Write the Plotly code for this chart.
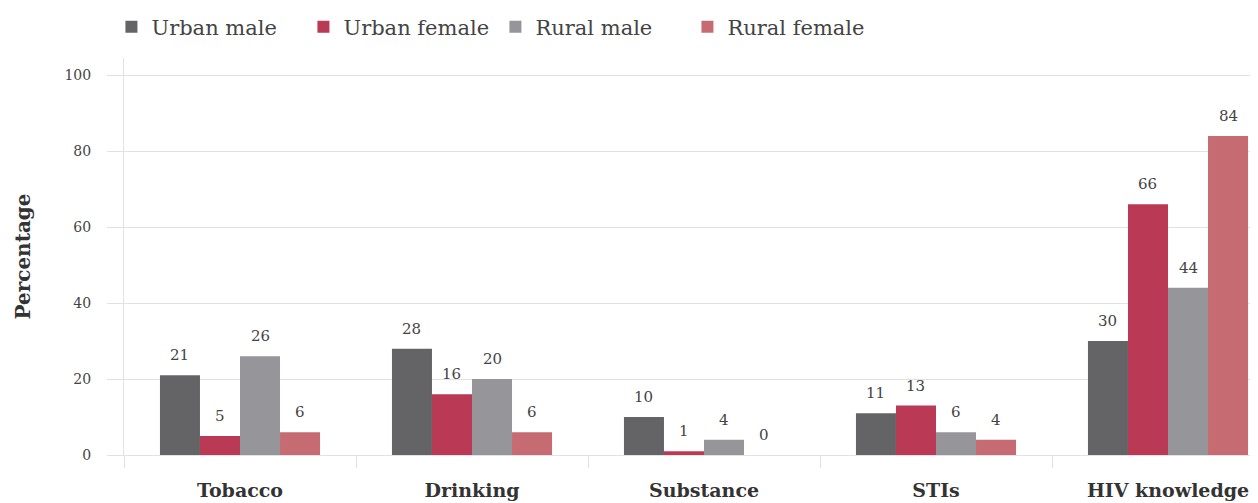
import plotly.graph_objects as go

categories = ["Tobacco", "Drinking", "Substance", "STIs", "HIV knowledge"]
urban_male = [21, 28, 10, 11, 30]
urban_female = [5, 16, 1, 13, 66]
rural_male = [26, 20, 4, 6, 44]
rural_female = [6, 6, 0, 4, 84]

series = [
    ("Urban male", urban_male, "#646466"),
    ("Urban female", urban_female, "#ba3955"),
    ("Rural male", rural_male, "#96969a"),
    ("Rural female", rural_female, "#c76b72"),
]

FONT = "DejaVu Serif"
TXT = "#444444"
GRID = "#e2e2e4"

W, H = 1258, 503
ml, mr, mt, mb = 116, 0, 50, 56
px_per_cat = 232
x_range = [-0.5, -0.5 + (W - ml - mr) / px_per_cat]
bargap = 0.31

fig = go.Figure()
for name, vals, col in series:
    fig.add_trace(go.Bar(x=categories, y=vals, name=name, marker_color=col,
                         marker_line_width=0))

# value labels placed above each bar
bar_px = (1 - bargap) / len(series) * px_per_cat
annotations = []
for j, (name, vals, col) in enumerate(series):
    for cat, v in zip(categories, vals):
        annotations.append(dict(x=cat, y=v, text=str(v), showarrow=False,
                                xshift=(j - 1.5) * bar_px, yshift=9, yanchor="bottom",
                                font=dict(family=FONT, size=15, color=TXT)))

fig.update_layout(
    width=W, height=H,
    margin=dict(l=ml, r=mr, t=mt, b=mb, autoexpand=False),
    barmode="group", bargap=bargap, bargroupgap=0,
    plot_bgcolor="white", paper_bgcolor="white",
    font=dict(family=FONT, color=TXT),
    annotations=annotations,
    legend=dict(orientation="h", x=-0.011, xanchor="left", y=1.078, yanchor="middle",
                entrywidth=147, entrywidthmode="pixels",
                font=dict(family=FONT, size=21, color=TXT), traceorder="normal"),
)
fig.update_xaxes(range=x_range, tickson="boundaries", ticks="outside", ticklen=12,
                 tickcolor=GRID, showgrid=False, showline=True, linecolor=GRID,
                 ticklabelstandoff=18, automargin=False,
                 tickfont=dict(family=FONT, size=19, color="#333333", weight="bold"))
fig.update_yaxes(range=[0, 104.5], tickvals=[0, 20, 40, 60, 80, 100], showgrid=True,
                 gridcolor=GRID, zeroline=False, showline=True, linecolor=GRID,
                 ticks="outside", ticklen=16, tickcolor=GRID, ticklabelstandoff=13,
                 automargin=False,
                 tickfont=dict(family=FONT, size=14, color=TXT),
                 title=dict(text="<b>Percentage</b>", standoff=28,
                            font=dict(family=FONT, size=20, color="#333333")))

fig.write_html("out.html")
